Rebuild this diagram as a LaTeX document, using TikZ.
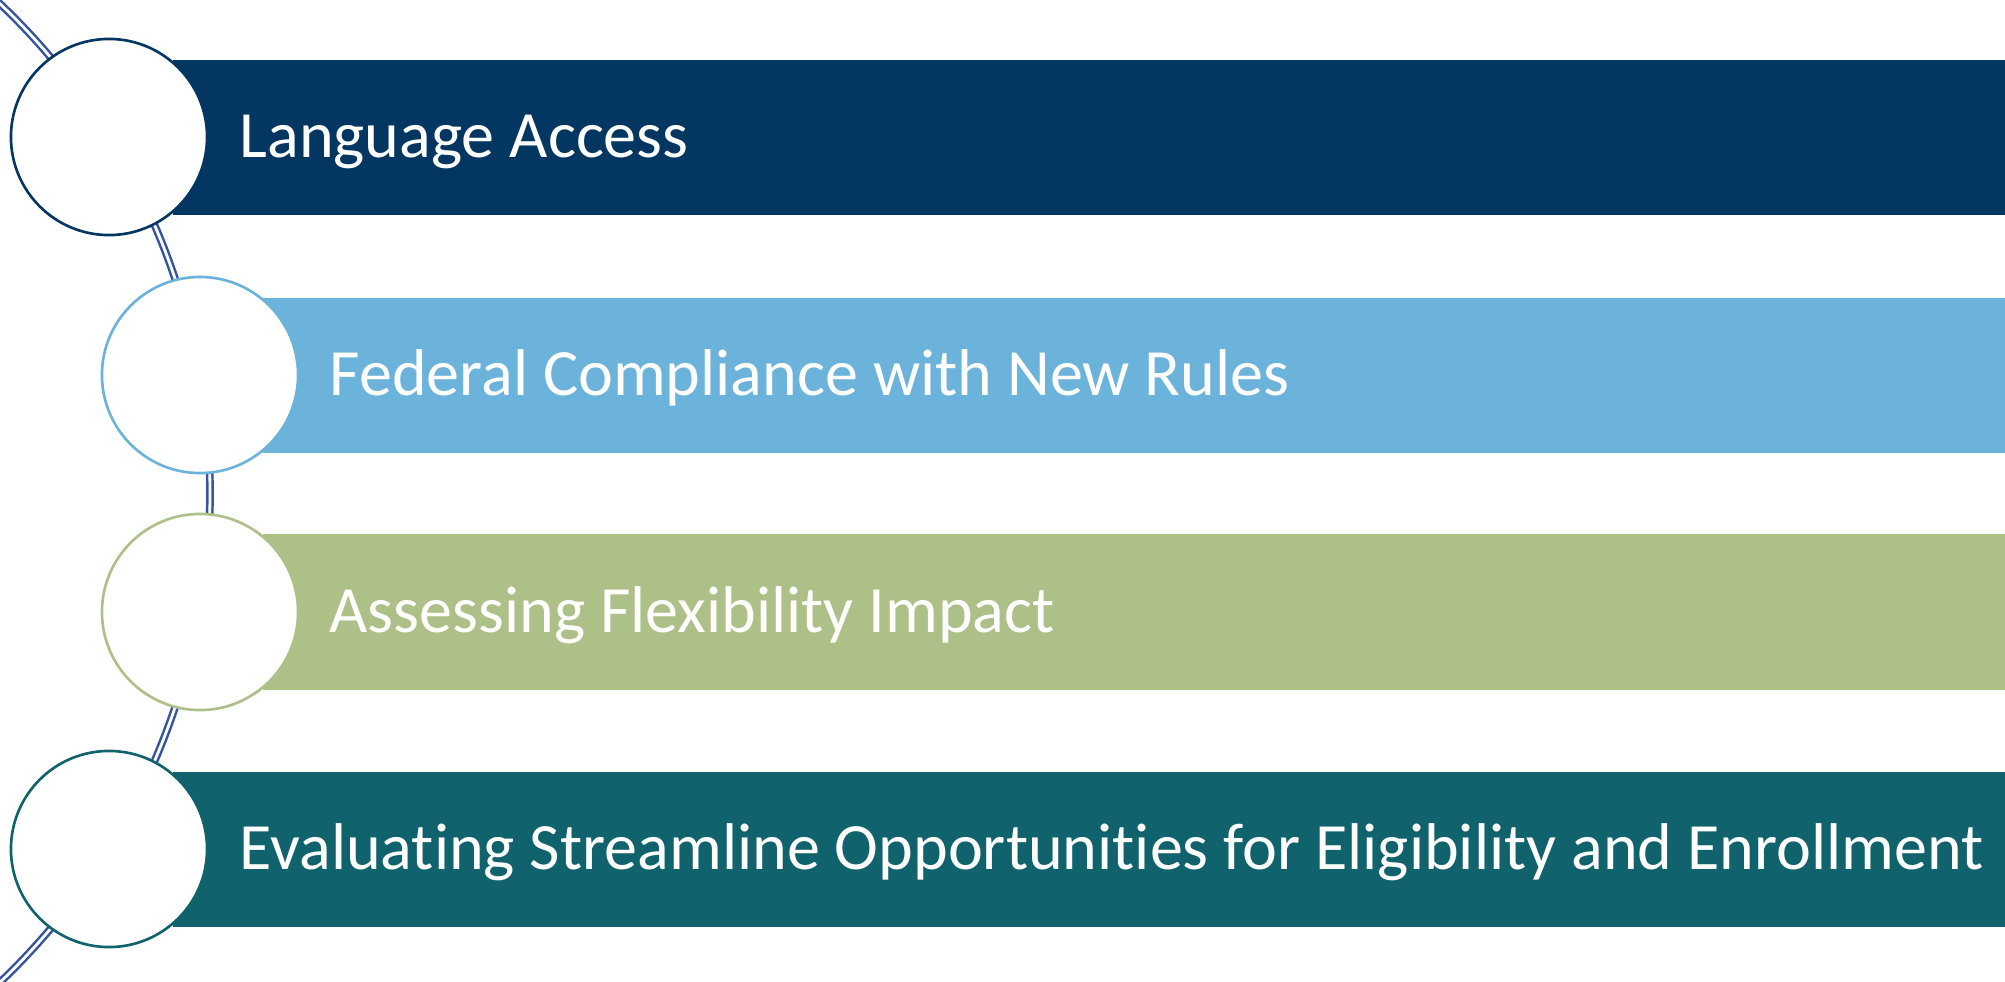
\documentclass[tikz,border=0pt]{standalone}
\usepackage{fontspec}
\setmainfont[Ligatures=NoCommon]{Carlito}
\usepackage{xcolor}
\usetikzlibrary{calc}
\definecolor{navy}{HTML}{033762}
\definecolor{sky}{HTML}{6CB3DB}
\definecolor{sage}{HTML}{ADC087}
\definecolor{teal}{HTML}{10626C}
\definecolor{spine}{HTML}{3553A0}
\begin{document}
\begin{tikzpicture}[x=0.01cm,y=-0.01cm,
        dot/.style={circle,draw=#1,line width=0.75pt,fill=white,minimum size=1.96cm,inner sep=0pt},
        caption/.style={anchor=base west,text=white,inner sep=0pt,font=\fontsize{18.8}{22}\selectfont}]
        \useasboundingbox (0,0) rectangle (2005,981);
        \coordinate (hub) at (-465,493);

        \begin{scope}
            \clip (0,0) rectangle (2005,981);
            \draw[line width=0.7pt,draw=spine,double=white,double distance=0.8pt] (hub) ++(-48:675) arc (-48:48:675);
        \end{scope}

        \fill[navy] (173,60) rectangle (2005,215);
        \fill[sky] (263,298) rectangle (2005,453);
        \fill[sage] (263,534) rectangle (2005,690);
        \fill[teal] (173,772) rectangle (2005,927);

        \node[dot=navy] (c1) at (109,137) {};
        \node[dot=sky] (c2) at (200,375) {};
        \node[dot=sage] (c3) at (200,612) {};
        \node[dot=teal] (c4) at (109,849) {};

        \node[caption] (t1) at ($(c1)+(130,20)$) {Language Access};
        \node[caption] (t2) at ($(c2)+(129,20)$) {Federal Compliance with New Rules};
        \node[caption] (t3) at ($(c3)+(129,20)$) {Assessing Flexibility Impact};
        \node[caption] (t4) at ($(c4)+(130,20)$) {Evaluating Streamline Opportunities for Eligibility and Enrollment};
    \end{tikzpicture}
\end{document}
